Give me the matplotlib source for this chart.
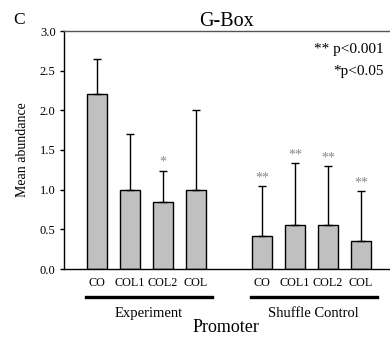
import matplotlib
matplotlib.use("Agg")
import matplotlib.pyplot as plt

plt.rcParams['font.family'] = ['Liberation Serif', 'DejaVu Serif']

groups = ["Experiment", "Shuffle Control"]
categories = ["CO", "COL1", "COL2", "COL"]
experiment_mean = [2.2, 1.0, 0.84, 1.0]
experiment_err = [0.45, 0.7, 0.40, 1.0]
shuffle_mean = [0.42, 0.55, 0.55, 0.35]
shuffle_err = [0.63, 0.79, 0.75, 0.63]
experiment_marks = ["", "", "*", ""]
shuffle_marks = ["**", "**", "**", "**"]

fig = plt.figure(figsize=(3.9, 3.4), dpi=100)
ax = fig.add_axes([64 / 390, 1 - 269 / 340, 326 / 390, 238 / 340])

exp_x = [0, 1, 2, 3]
shf_x = [5, 6, 7, 8]
bar_kw = dict(width=0.6, color="#c0c0c0", edgecolor="black", linewidth=1.0, zorder=2)
err_kw = dict(ecolor="black", elinewidth=1.0, capsize=3, capthick=1.0)

ax.bar(exp_x, experiment_mean, yerr=[[0] * 4, experiment_err], error_kw=err_kw, **bar_kw)
ax.bar(shf_x, shuffle_mean, yerr=[[0] * 4, shuffle_err], error_kw=err_kw, **bar_kw)

for xs, ms, es, marks in [(exp_x, experiment_mean, experiment_err, experiment_marks),
                          (shf_x, shuffle_mean, shuffle_err, shuffle_marks)]:
    for x, m, e, s in zip(xs, ms, es, marks):
        if s:
            ax.text(x, m + e + 0.02, s, ha="center", va="bottom", fontsize=10,
                    color="#888888")

ax.set_xlim(-1, 8.88)
ax.set_ylim(0, 3.0)
ax.set_yticks([0.0, 0.5, 1.0, 1.5, 2.0, 2.5, 3.0])
ax.set_yticklabels([f"{v:.1f}" for v in ax.get_yticks()], fontsize=9)
ax.set_xticks(exp_x + shf_x)
ax.set_xticklabels(categories + categories, fontsize=8.7)
ax.tick_params(axis="x", length=0, pad=6)
ax.tick_params(axis="y", length=3, width=1.0, direction="out", pad=3)
for side in ["left", "bottom"]:
    ax.spines[side].set_linewidth(1.0)
ax.spines["top"].set_linewidth(1.0)
ax.spines["top"].set_color("#555555")
ax.spines["right"].set_visible(False)

ax.set_ylabel("Mean abundance", fontsize=10, labelpad=8)
ax.set_title("G-Box", fontsize=14.5, pad=1)

# group underlines and labels
trans = ax.get_xaxis_transform()
for xs, name in [(exp_x, groups[0]), (shf_x, groups[1])]:
    ax.plot([xs[0] - 0.33, xs[-1] + 0.48], [-0.117, -0.117], color="black", lw=2.4,
            transform=trans, clip_on=False)
    ax.text((xs[0] + xs[-1]) / 2 + 0.07, -0.185, name, ha="center", va="center",
            fontsize=10.5, transform=trans)

fig.text(226 / 390, 1 - 327 / 340, "Promoter", ha="center", va="center", fontsize=13)
fig.text(19 / 390, 1 - 20 / 340, "C", ha="center", va="center", fontsize=12.5)

fig.text(384 / 390, 1 - 50 / 340, "** p<0.001", ha="right", va="center", fontsize=11)
fig.text(384 / 390, 1 - 72 / 340, "*p<0.05", ha="right", va="center", fontsize=11)

fig.savefig("out.png", dpi=100)
